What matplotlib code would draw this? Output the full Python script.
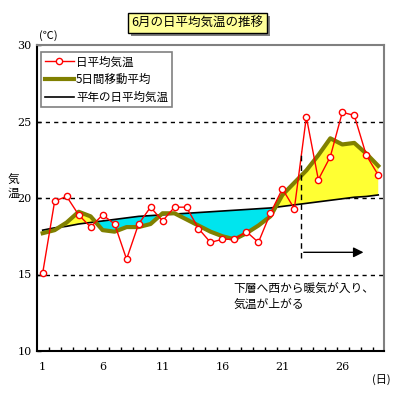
import matplotlib
matplotlib.use('Agg')
import matplotlib.pyplot as plt
from matplotlib.patches import Rectangle

plt.rcParams['font.family'] = ['Noto Sans CJK JP', 'DejaVu Sans']

# data (June, days 1-29)
days = list(range(1, 30))
daily = [15.1, 19.8, 20.1, 18.9, 18.1, 18.9, 18.3, 16.0, 18.3, 19.4,
         18.5, 19.4, 19.4, 18.0, 17.1, 17.3, 17.3, 17.8, 17.1, 19.0,
         20.6, 19.3, 25.3, 21.2, 22.7, 25.6, 25.4, 22.8, 21.5]
ma5 = [17.7, 17.9, 18.4, 19.1, 18.8, 17.9, 17.8, 18.1, 18.1, 18.3,
       19.0, 19.0, 18.6, 18.2, 17.8, 17.5, 17.3, 17.7, 18.2, 18.8,
       20.2, 21.0, 21.8, 22.8, 23.9, 23.5, 23.6, 22.9, 22.1]
normal = [17.9, 18.05, 18.15, 18.3, 18.4, 18.5, 18.6, 18.7, 18.8, 18.85,
          18.9, 18.95, 19.0, 19.05, 19.1, 19.15, 19.2, 19.25, 19.3, 19.35,
          19.45, 19.55, 19.65, 19.75, 19.85, 19.95, 20.05, 20.1, 20.2]
xticks = [1, 6, 11, 16, 21, 26]
yticks = [10, 15, 20, 25, 30]

W = 399.0


def fx(x):
    return x / W


def fy(y):
    return 1 - y / W


fig = plt.figure(figsize=(3.99, 3.99), dpi=100)
ax = fig.add_axes([fx(37.3), fy(351), fx(384 - 37.3), (351 - 45) / W])

ax.set_xlim(0.55, 29.48)
ax.set_ylim(10, 30)

for v in [15, 20, 25]:
    ax.axhline(v, color='black', lw=1, ls=(0, (3, 3)), zorder=1)

ma_above = [m >= n for m, n in zip(ma5, normal)]
ma_below = [m <= n for m, n in zip(ma5, normal)]
ax.fill_between(days, ma5, normal, where=ma_above, interpolate=True,
                color='#FFFF33', lw=0, zorder=2)
ax.fill_between(days, ma5, normal, where=ma_below, interpolate=True,
                color='#00E5EE', lw=0, zorder=2)

ax.plot(days, normal, color='black', lw=1.2, zorder=3, label='平年の日平均気温')
ax.plot(days, ma5, color='#808000', lw=3, zorder=4, label='5日間移動平均')
ax.plot(days, daily, color='red', lw=1, marker='o', markersize=4.5,
        markerfacecolor='white', markeredgecolor='red', markeredgewidth=1,
        zorder=5, label='日平均気温')

# annotation: front line and arrow
ax.plot([22.55, 22.55], [16.1, 23.1], color='black', lw=1, ls=(0, (4, 3)), zorder=6)
ax.annotate('', xy=(28.0, 16.45), xytext=(22.55, 16.45),
            arrowprops=dict(arrowstyle='-|>', color='black', lw=1,
                            mutation_scale=15), zorder=6)
ax.text(16.9, 14.55, '下層へ西から暖気が入り、\n気温が上がる', fontsize=8.5,
        va='top', ha='left', linespacing=1.35)

# axes styling
ax.set_xticks(xticks)
ax.set_xticklabels([str(t) for t in xticks], family='DejaVu Serif', fontsize=8)
ax.set_xticks([d + 0.55 for d in range(1, 29)], minor=True)
ax.tick_params(axis='x', which='major', length=0, pad=8)
ax.tick_params(axis='x', which='minor', direction='in', length=3, width=1)
ax.set_yticks(yticks)
ax.set_yticklabels([str(t) for t in yticks], family='DejaVu Serif', fontsize=8)
ax.tick_params(axis='y', direction='in', length=3, width=1, pad=4)

for s in ['left', 'bottom']:
    ax.spines[s].set_color('black')
    ax.spines[s].set_linewidth(1.5)
for s in ['top', 'right']:
    ax.spines[s].set_color('#808080')
    ax.spines[s].set_linewidth(1.5)

h, l = ax.get_legend_handles_labels()
leg = ax.legend(h[::-1], l[::-1], loc='upper left', bbox_to_anchor=(0.012, 0.977),
                fontsize=8.3, frameon=True, fancybox=False, edgecolor='#808080',
                framealpha=1, borderpad=0.3, labelspacing=0.4,
                handlelength=2.5, handletextpad=0.2, borderaxespad=0)
leg.get_frame().set_linewidth(1.2)

# outer labels
fig.text(fx(48), fy(36), '(℃)', fontsize=8, ha='center', va='center')
fig.text(fx(13), fy(187), '気\n温', fontsize=8.5, ha='center', va='center',
         linespacing=1.0)
fig.text(fx(381), fy(380), '(日)', fontsize=8, ha='center', va='center')

# title box with shadow
fig.patches.append(Rectangle((fx(131), fy(36.3)), fx(139), 20.3 / W,
                             transform=fig.transFigure, facecolor='#808080',
                             edgecolor='none', zorder=1))
fig.patches.append(Rectangle((fx(128), fy(33.3)), fx(139), 20.3 / W,
                             transform=fig.transFigure, facecolor='#FFFF99',
                             edgecolor='black', lw=1, zorder=2))
fig.text(fx(197.5), fy(23), '6月の日平均気温の推移', fontsize=9,
         ha='center', va='center', zorder=3)

fig.savefig('out.png', dpi=100)
